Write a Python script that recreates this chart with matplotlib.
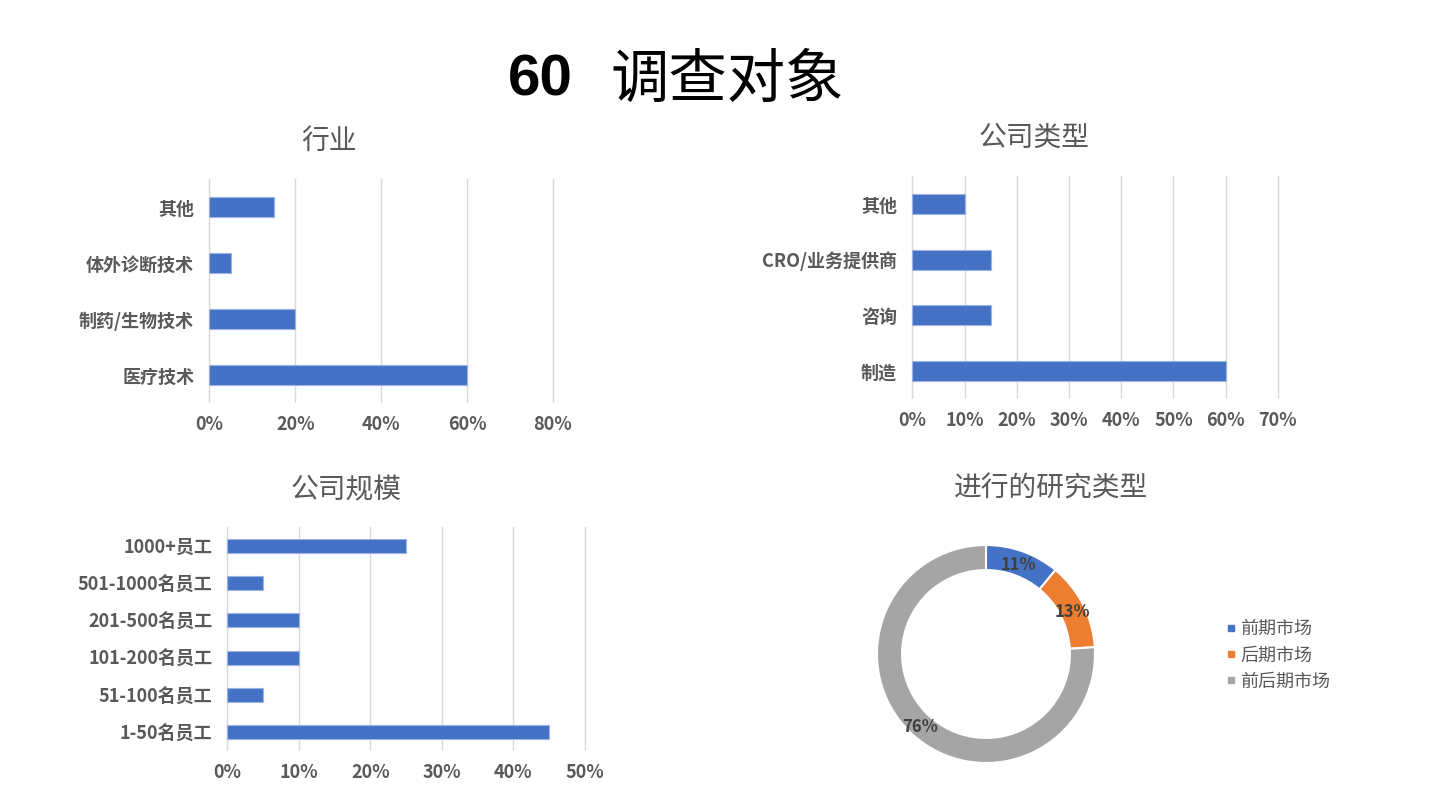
import math
import matplotlib
matplotlib.use("Agg")
import matplotlib.pyplot as plt
from matplotlib.ticker import FuncFormatter, FixedLocator

plt.rcParams['font.family'] = ['Noto Sans CJK SC', 'DejaVu Sans']

# ---- data ----
industry_cats = ["医疗技术", "制药/生物技术", "体外诊断技术", "其他"]
industry_vals = [60, 20, 5, 15]

ctype_cats = ["制造", "咨询", "CRO/业务提供商", "其他"]
ctype_vals = [60, 15, 15, 10]

size_cats = ["1-50名员工", "51-100名员工", "101-200名员工", "201-500名员工", "501-1000名员工", "1000+员工"]
size_vals = [45, 5, 10, 10, 5, 25]

research_cats = ["前期市场", "后期市场", "前后期市场"]
research_vals = [11, 13, 76]
research_colors = ["#4472C4", "#ED7D31", "#A5A5A5"]

W, H = 1440, 810
BLUE = "#4472C4"
GRAY_TXT = "#595959"

fig = plt.figure(figsize=(14.4, 8.1), dpi=100)
fig.patch.set_facecolor("white")


def px_axes(left, top, right, bottom):
    return fig.add_axes([left / W, 1 - bottom / H, (right - left) / W, (bottom - top) / H])


def style_bar(ax, cats, vals, xmax, step, barh):
    y = list(range(len(cats)))
    ax.barh(y, vals, height=barh, color=BLUE, edgecolor="#9DB3E0", linewidth=0.8, zorder=3)
    ax.set_yticks(y)
    ax.set_yticklabels(cats)
    ax.set_ylim(-0.5, len(cats) - 0.5)
    ticks = list(range(0, xmax + 1, step))
    ax.xaxis.set_major_locator(FixedLocator(ticks))
    ax.xaxis.set_major_formatter(FuncFormatter(lambda v, p: f"{int(round(v))}%"))
    ax.set_xlim(-0.004 * xmax, xmax * 1.006)
    ax.grid(axis="x", color="#D9D9D9", linewidth=1.0, zorder=0)
    for s in ax.spines.values():
        s.set_visible(False)
    ax.tick_params(axis="both", length=0, colors=GRAY_TXT, labelsize=13)
    ax.tick_params(axis="y", pad=10)
    ax.tick_params(axis="x", pad=9)
    for lab in ax.get_xticklabels() + ax.get_yticklabels():
        lab.set_fontweight("bold")
        lab.set_color(GRAY_TXT)


# Title
fig.text(573 / W, 1 - 81 / H, "60", fontsize=42, fontweight="bold", ha="right", va="center",
         color="black", family=["Liberation Sans", "DejaVu Sans"])
fig.text(610 / W, 1 - 80 / H, "调查对象", fontsize=42, ha="left", va="center", color="black")

# Top-left: industry
ax1 = px_axes(208, 179, 555, 403)
style_bar(ax1, industry_cats, industry_vals, 80, 20, 0.36)
fig.text(329 / W, 1 - 141 / H, "行业", fontsize=20, ha="center", va="center", color=GRAY_TXT)

# Top-right: company type
ax2 = px_axes(911, 176, 1280, 399)
style_bar(ax2, ctype_cats, ctype_vals, 70, 10, 0.36)
fig.text(1034 / W, 1 - 138 / H, "公司类型", fontsize=20, ha="center", va="center", color=GRAY_TXT)

# Bottom-left: company size
ax3 = px_axes(226, 527, 587, 751)
style_bar(ax3, size_cats, size_vals, 50, 10, 0.38)
fig.text(346 / W, 1 - 490 / H, "公司规模", fontsize=20, ha="center", va="center", color=GRAY_TXT)

# Bottom-right: donut
cx, cy, R = 986, 654, 109
ax4 = px_axes(cx - 1.1 * R, cy - 1.1 * R, cx + 1.1 * R, cy + 1.1 * R)
wedges, _ = ax4.pie(research_vals, colors=research_colors, startangle=90, counterclock=False,
                    radius=1.0, wedgeprops=dict(width=0.23, edgecolor="white", linewidth=1.5))
ax4.set_xlim(-1.1, 1.1)
ax4.set_ylim(-1.1, 1.1)
ax4.set_aspect("equal")
ax4.axis("off")
cum = 0
for v in research_vals:
    mid = 90 - (cum + v / 2) * 3.6
    cum += v
    r = 0.89
    ax4.text(r * math.cos(math.radians(mid)), r * math.sin(math.radians(mid)) - 0.02, f"{v}%",
             ha="center", va="center", fontsize=12, fontweight="bold", color="#404040")
fig.text(1051 / W, 1 - 489 / H, "进行的研究类型", fontsize=20, ha="center", va="center", color=GRAY_TXT)

handles = [plt.Line2D([], [], marker="s", linestyle="none", markersize=5, color=c) for c in research_colors]
leg = fig.legend(handles, research_cats, loc="upper left", bbox_to_anchor=(1208 / W, 1 - 604 / H),
                 frameon=False, fontsize=13, handletextpad=0.1, labelspacing=0.45, handlelength=0.8)
for t in leg.get_texts():
    t.set_color(GRAY_TXT)

fig.savefig("out.png", dpi=100, facecolor="white")
